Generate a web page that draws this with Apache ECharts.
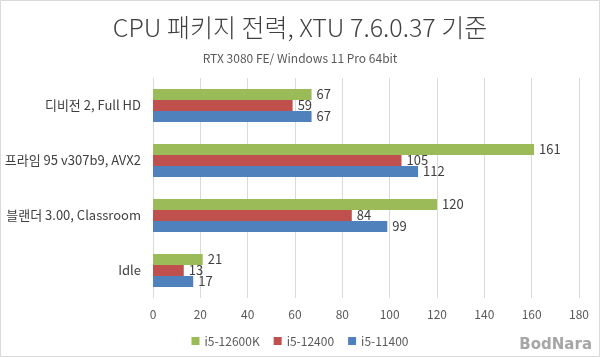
<!DOCTYPE html>
<html><head><meta charset="utf-8">
<script src="https://cdn.jsdelivr.net/npm/echarts@6/dist/echarts.min.js"></script>
<style>html,body{margin:0;padding:0;background:#fff}#c{width:600px;height:357px}</style>
</head><body><div id="c"></div>
<script>
const categories = ['디비전 2, Full HD', '프라임 95 v307b9, AVX2', '블랜더 3.00, Classroom', 'Idle'];
const seriesNames = ['i5-12600K', 'i5-12400', 'i5-11400'];
const s12600K = [67, 161, 120, 21];
const s12400 = [59, 105, 84, 13];
const s11400 = [67, 112, 99, 17];
const xTicks = [0, 20, 40, 60, 80, 100, 120, 140, 160, 180];
const colors = ['#9BBB59', '#C0504D', '#4F81BD'];
const font = '"Noto Sans CJK KR", "Noto Sans", sans-serif';

const chart = echarts.init(document.getElementById('c'), null, {renderer: 'canvas'});
const values = [s12600K, s12400, s11400];
chart.setOption({
  animation: false,
  textStyle: {fontFamily: font},
  title: {
    text: 'CPU 패키지 전력, XTU 7.6.0.37 기준',
    subtext: 'RTX 3080 FE/ Windows 11 Pro 64bit',
    left: 'center', top: 10, itemGap: 12,
    textStyle: {fontSize: 25, fontWeight: 300, color: '#404040', fontFamily: font},
    subtextStyle: {fontSize: 12, color: '#595959', fontFamily: font}
  },
  legend: {
    top: 330, left: 'center',
    itemWidth: 8, itemHeight: 8, itemGap: 14,
    icon: 'rect',
    textStyle: {fontSize: 12, color: '#595959', fontFamily: font},
    data: seriesNames
  },
  grid: {left: 153, right: 21, top: 78, bottom: 59, containLabel: false},
  xAxis: {
    type: 'value', min: xTicks[0], max: xTicks[xTicks.length - 1], interval: 20,
    axisLine: {show: false}, axisTick: {show: false},
    splitLine: {lineStyle: {color: '#D9D9D9', width: 1}},
    axisLabel: {fontSize: 12, color: '#595959', margin: 10, fontFamily: font}
  },
  yAxis: {
    type: 'category', data: categories, inverse: true,
    axisLine: {lineStyle: {color: '#D9D9D9'}}, axisTick: {show: false},
    axisLabel: {fontSize: 13, color: '#404040', margin: 12, fontFamily: font}
  },
  series: seriesNames.map((n, i) => ({
    name: n, type: 'bar', data: values[i],
    barGap: '0%', barCategoryGap: '40%',
    itemStyle: {color: colors[i]},
    label: {show: true, position: 'right', distance: 5, fontSize: 13, color: '#404040', fontFamily: font}
  })),
  graphic: [
    {type: 'rect', shape: {x: 0.5, y: 0.5, width: 599, height: 356}, style: {fill: 'none', stroke: '#D9D9D9', lineWidth: 1}},
    {type: 'text', right: 8, bottom: 4, style: {text: 'BodNara', font: 'bold 15px "DejaVu Sans", sans-serif', fill: '#A6A6A6'}}
  ]
});
</script></body></html>
